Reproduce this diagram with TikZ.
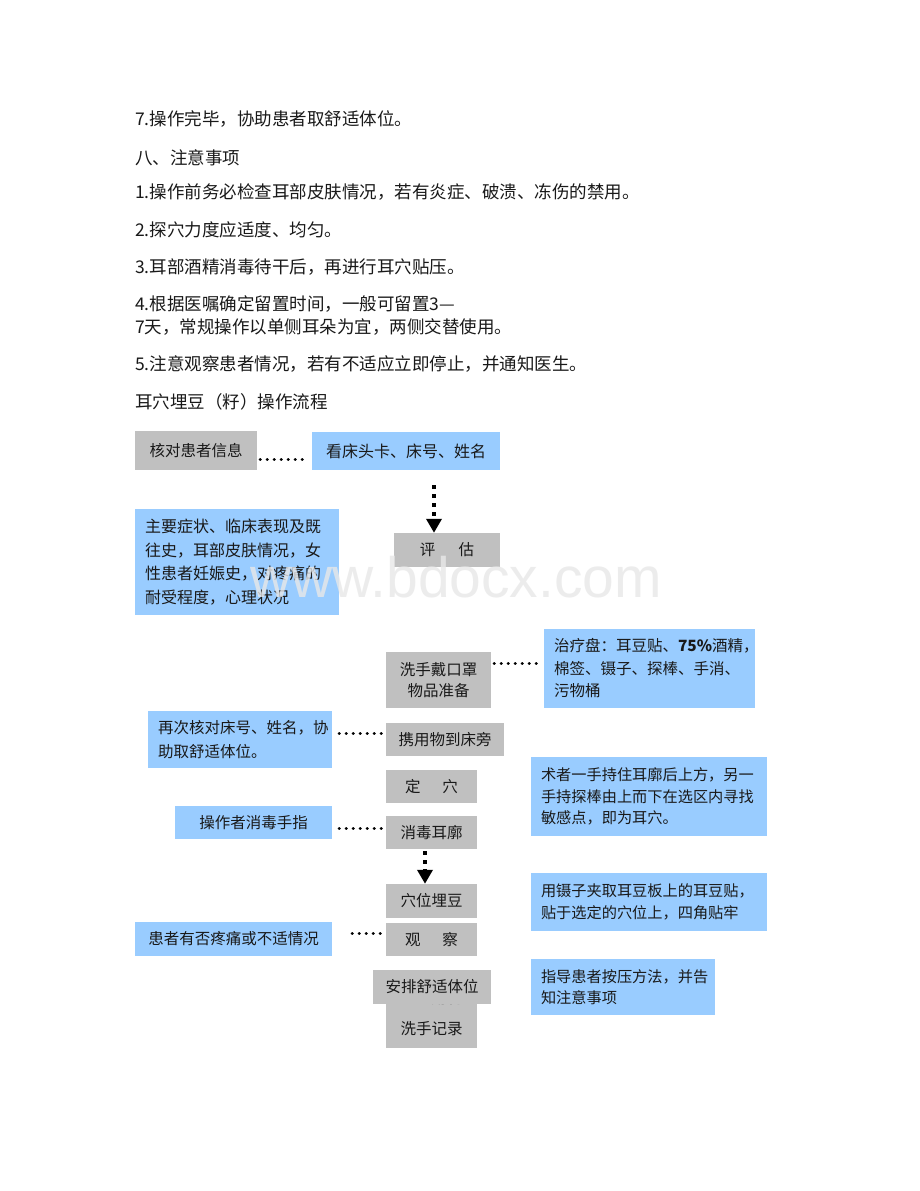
\documentclass[tikz,border=0pt]{standalone}
\usepackage{fontspec}
\usetikzlibrary{arrows.meta,calc}
\newfontfamily\cjk{Noto Sans CJK SC}
\newfontfamily\wmfont{Liberation Sans}
\definecolor{boxgray}{RGB}{192,192,192}
\definecolor{boxblue}{RGB}{153,204,255}
\definecolor{wmgray}{RGB}{232,232,232}
\begin{document}
\begin{tikzpicture}[x=1pt,y=-1pt,
  para/.style={anchor=west,inner sep=0pt,text=black!90,font=\cjk\fontsize{17.5}{21}\selectfont},
  gbox/.style={fill=boxgray,inner sep=0pt,align=center,text=black!90,font=\cjk\fontsize{15.5}{22}\selectfont},
  bbox/.style={fill=boxblue,inner sep=0pt,align=center,text=black!90,font=\cjk\fontsize{16}{22}\selectfont},
  bpar/.style={fill=boxblue,inner xsep=10pt,inner ysep=0pt,align=left,text=black!90,font=\cjk\fontsize{15.5}{22.5}\selectfont},
  dotline/.style={line width=3pt,line cap=round,dash pattern=on 0.1pt off 6.9pt},
  dotarrow/.style={line width=4pt,dash pattern=on 4pt off 5pt,-{Triangle[width=15pt,length=14pt]}}
]
\useasboundingbox (0,0) rectangle (920,1191);
\fill[white] (0,0) rectangle (920,1191);

% top text
\node[para] (t1) at (135,119) {7.操作完毕，协助患者取舒适体位。};
\node[para] (t2) at (135,158) {八、注意事项};
\node[para] (t3) at (135,192) {1.操作前务必检查耳部皮肤情况，若有炎症、破溃、冻伤的禁用。};
\node[para] (t4) at (135,230) {2.探穴力度应适度、均匀。};
\node[para] (t5) at (135,267) {3.耳部酒精消毒待干后，再进行耳穴贴压。};
\node[para] (t6) at (135,304) {4.根据医嘱确定留置时间，一般可留置3—};
\node[para] (t7) at (135,327) {7天，常规操作以单侧耳朵为宜，两侧交替使用。};
\node[para] (t8) at (135,364) {5.注意观察患者情况，若有不适应立即停止，并通知医生。};
\node[para] (t9) at (135,402) {耳穴埋豆（籽）操作流程};

% boxes
\node[gbox,minimum width=122pt,minimum height=39pt] (hd) at (196,450.5) {核对患者信息};
\node[bbox,minimum width=188pt,minimum height=38pt] (kc) at (406,451) {看床头卡、床号、姓名};
\node[gbox,minimum width=106pt,minimum height=34pt] (pg) at (447,550) {评\hspace{1.5em}估};
\node[bpar,text width=184pt,minimum height=106pt,font=\cjk\fontsize{16}{23.5}\selectfont] (zy) at (237,562)
  {主要症状、临床表现及既\\往史，耳部皮肤情况，女\\性患者妊娠史，对疼痛的\\耐受程度，心理状况};
\node[gbox,minimum width=105pt,minimum height=56pt] (xs) at (438.5,680) {洗手戴口罩\\[-1pt]物品准备};
\node[bpar,text width=191pt,minimum height=79pt] (zl) at (649.5,668.5)
  {治疗盘：耳豆贴、\textbf{75\%}酒精，\\棉签、镊子、探棒、手消、\\污物桶};
\node[gbox,minimum width=118pt,minimum height=33pt] (xy) at (445,739.5) {携用物到床旁};
\node[bpar,text width=164pt,minimum height=57pt,font=\cjk\fontsize{15.5}{24}\selectfont] (zc) at (240,739.5)
  {再次核对床号、姓名，协\\助取舒适体位。};
\node[gbox,minimum width=91pt,minimum height=33pt] (dx) at (431.5,786.5) {定\hspace{1.4em}穴};
\node[bbox,minimum width=157pt,minimum height=33pt,font=\cjk\fontsize{15.5}{22}\selectfont] (sz) at (253.5,822.5) {操作者消毒手指};
\node[gbox,minimum width=91pt,minimum height=33pt] (xd) at (431.5,832.5) {消毒耳廓};
\node[bpar,text width=216pt,minimum height=79pt,font=\cjk\fontsize{15.2}{21.5}\selectfont] (ss) at (649,796.5)
  {术者一手持住耳廓后上方，另一\\手持探棒由上而下在选区内寻找\\敏感点，即为耳穴。};
\node[gbox,minimum width=91pt,minimum height=34pt] (xw) at (431.5,901) {穴位埋豆};
\node[gbox,minimum width=91pt,minimum height=33pt] (gc) at (431.5,939.5) {观\hspace{1.4em}察};
\node[bbox,minimum width=197pt,minimum height=34pt,font=\cjk\fontsize{15.5}{22}\selectfont] (hz) at (233.5,939) {患者有否疼痛或不适情况};
\node[gbox,minimum width=91pt,minimum height=69pt,font=\cjk\fontsize{15.5}{31}\selectfont] (zj) at (431.5,1013) {整理用物\\洗手记录};
\node[gbox,minimum width=118pt,minimum height=34pt] (ap) at (432,987) {安排舒适体位};
\node[bpar,text width=216pt,minimum height=58pt,font=\cjk\fontsize{15.2}{21.5}\selectfont] (yn) at (649,902)
  {用镊子夹取耳豆板上的耳豆贴，\\贴于选定的穴位上，四角贴牢};
\node[bpar,text width=164pt,minimum height=56pt,font=\cjk\fontsize{15.2}{20.5}\selectfont] (zd) at (623,987)
  {指导患者按压方法，并告\\知注意事项};

% connectors
\coordinate (c1) at ($(hd.east)+(3,8.5)$);
\draw[dotline] (c1) -- ($(c1 -| kc.west)+(-4,0)$);
\coordinate (a1) at ($(kc.south)+(28,15)$);
\draw[dotarrow] (a1) -- (a1 |- pg.north);
\coordinate (c2) at ($(xs.east)+(3,-17)$);
\draw[dotline] (c2) -- ($(c2 -| zl.west)+(-5,0)$);
\coordinate (c3) at ($(zc.east)+(7,-6.5)$);
\draw[dotline] (c3) -- ($(c3 -| xy.west)+(-1,0)$);
\coordinate (c4) at ($(sz.east)+(7,5.5)$);
\draw[dotline] (c4) -- ($(c4 -| xd.west)+(-1,0)$);
\coordinate (a2) at ($(xd.south)+(-6.5,2)$);
\draw[dotarrow] (a2) -- (a2 |- xw.north);
\coordinate (c5) at ($(hz.east)+(20,-6)$);
\draw[dotline] (c5) -- ($(c5 -| gc.west)+(-1,0)$);

% watermark
\node[anchor=base west,inner sep=0pt,text=wmgray,text opacity=0.8,font=\wmfont\fontsize{57}{57}\selectfont] (wm) at (250,597) {www.bdocx.com};
\end{tikzpicture}
\end{document}
